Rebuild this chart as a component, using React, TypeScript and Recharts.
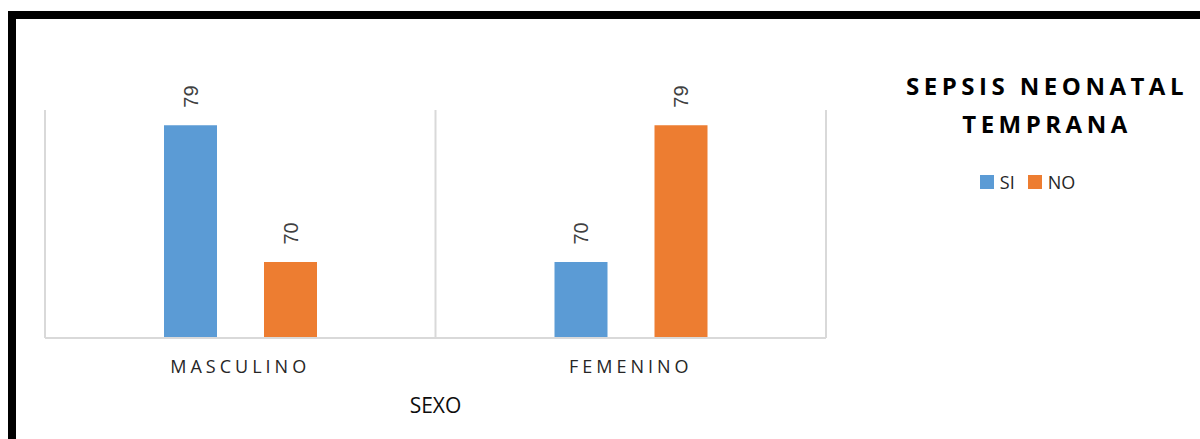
import React from 'react';
import { BarChart, Bar, XAxis, YAxis, CartesianGrid, Legend, LabelList } from 'recharts';

// Sepsis neonatal temprana por sexo
const categories = ['MASCULINO', 'FEMENINO'];
const siValues = [79, 70];
const noValues = [70, 79];
const seriesNames = ['SI', 'NO'];
const seriesColors = ['#5B9BD5', '#ED7D31'];
const yDomain = [65, 80];
const legendTitle = ['SEPSIS NEONATAL', 'TEMPRANA'];
const axisTitle = 'SEXO';

const data = categories.map((categoria, i) => ({
  categoria,
  [seriesNames[0]]: siValues[i],
  [seriesNames[1]]: noValues[i],
}));

const FONT = '"Open Sans", "Liberation Sans", sans-serif';
const GRID = '#d9d9d9';

const CategoryTick = (props: any) => {
  const { x, y, payload } = props;
  return (
    <text
      x={x}
      y={y}
      dy={13}
      textAnchor="middle"
      fill="#262626"
      fontSize={18}
      fontFamily={FONT}
      style={{ letterSpacing: '4px' }}
    >
      {payload.value}
    </text>
  );
};

const ValueLabel = (props: any) => {
  const { x, y, width, value } = props;
  const cx = Number(x) + Number(width) / 2;
  const top = Number(y) - 17.5;
  return (
    <g transform={`translate(${cx}, ${top}) rotate(-90)`}>
      <text
        x={0}
        y={0}
        dy="0.36em"
        textAnchor="start"
        fill="#404040"
        fontSize={20}
        fontFamily='"Liberation Sans", Arial, sans-serif'
      >
        {value}
      </text>
    </g>
  );
};

const LegendBox = (props: any) => {
  const raw = props.payload || [];
  // keep the series order (SI, NO)
  const items = seriesNames
    .map((n) => raw.find((e: any) => e.value === n))
    .filter(Boolean);
  return (
    <div style={{ fontFamily: FONT, textAlign: 'center' }}>
      <div
        style={{
          fontSize: 24,
          fontWeight: 700,
          lineHeight: '38px',
          letterSpacing: '4.5px',
          color: '#000',
        }}
      >
        {legendTitle.map((line) => (
          <div key={line}>{line}</div>
        ))}
      </div>
      <div
        style={{
          marginTop: 29,
          fontSize: 18,
          lineHeight: '20px',
          color: '#262626',
          paddingRight: 39,
          whiteSpace: 'nowrap',
        }}
      >
        {items.map((entry: any, i: number) => (
          <span key={entry.value} style={{ marginLeft: i === 0 ? 0 : 13 }}>
            <span
              style={{
                display: 'inline-block',
                width: 14,
                height: 14,
                background: entry.color,
                marginRight: 6,
                verticalAlign: 'baseline',
              }}
            />
            {entry.value}
          </span>
        ))}
      </div>
    </div>
  );
};

export default function App() {
  return (
    <div
      style={{
        position: 'fixed',
        top: 11,
        left: 8,
        bottom: 0,
        width: 1184,
        borderTop: '8px solid #000',
        borderLeft: '8px solid #000',
        background: '#fff',
      }}
    >
      <BarChart
        width={1184}
        height={410}
        data={data}
        margin={{ top: 91, right: 374, bottom: 11, left: 29 }}
        barGap={47}
        barSize={53}
      >
        <CartesianGrid
          horizontal={false}
          stroke={GRID}
          strokeWidth={2}
          verticalCoordinatesGenerator={({ offset }: any) =>
            Array.from({ length: categories.length + 1 }, (_, i) =>
              offset.left + (offset.width * i) / categories.length
            )
          }
        />
        <XAxis
          dataKey="categoria"
          axisLine={{ stroke: GRID, strokeWidth: 2 }}
          tickLine={false}
          tickSize={0}
          tickMargin={22}
          interval={0}
          height={80}
          tick={<CategoryTick />}
          label={{
            value: axisTitle,
            position: 'insideBottom',
            offset: 5,
            fill: '#0d0d0d',
            fontSize: 21,
            fontFamily: FONT,
          }}
        />
        <YAxis hide type="number" domain={yDomain} allowDataOverflow />
        <Legend
          layout="horizontal"
          align="center"
          verticalAlign="middle"
          content={<LegendBox />}
          wrapperStyle={{ left: 881, top: 48, width: 300, height: 'auto' }}
        />
        {seriesNames.map((name, i) => (
          <Bar
            key={name}
            dataKey={name}
            name={name}
            fill={seriesColors[i]}
            isAnimationActive={false}
          >
            <LabelList dataKey={name} content={<ValueLabel />} />
          </Bar>
        ))}
      </BarChart>
    </div>
  );
}
